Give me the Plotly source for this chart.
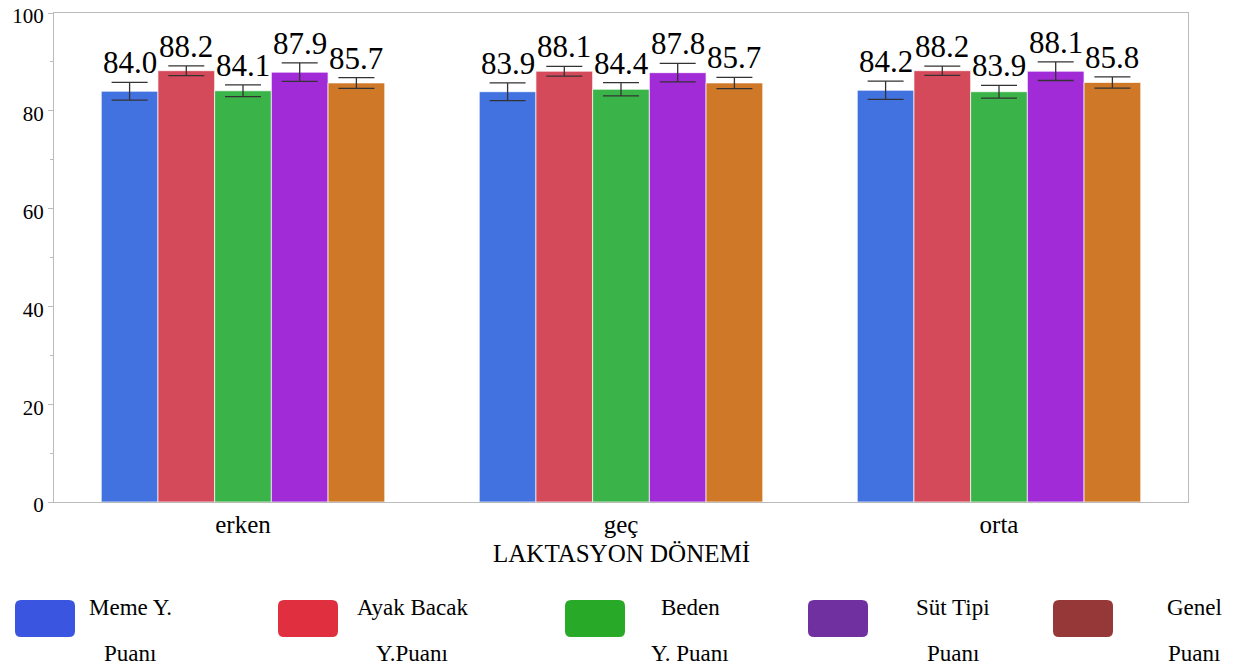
import plotly.graph_objects as go

categories = ["erken", "geç", "orta"]
series_names = ["Meme Y. Puanı", "Ayak Bacak Y.Puanı", "Beden Y. Puanı", "Süt Tipi Puanı", "Genel Puanı"]
legend_line1 = ["Meme Y.", "Ayak Bacak", "Beden", "Süt Tipi", "Genel"]
legend_line2 = ["Puanı", "Y.Puanı", "Y. Puanı", "Puanı", "Puanı"]

meme = [84.0, 83.9, 84.2]
ayak = [88.2, 88.1, 88.2]
beden = [84.1, 84.4, 83.9]
sut = [87.9, 87.8, 88.1]
genel = [85.7, 85.7, 85.8]
values = [meme, ayak, beden, sut, genel]

meme_err = [1.8, 1.8, 1.85]
ayak_err = [1.0, 1.0, 0.95]
beden_err = [1.2, 1.35, 1.3]
sut_err = [1.9, 1.9, 1.9]
genel_err = [1.1, 1.15, 1.15]
errors = [meme_err, ayak_err, beden_err, sut_err, genel_err]

bar_colors = ["#4272E0", "#D44A5A", "#3AB449", "#A22BD8", "#CF7828"]
legend_colors = ["#3A56E0", "#E03040", "#28AA28", "#7030A0", "#963838"]

FONT = "Liberation Serif"

# page offset (body margin) and plot area in page pixels
OFF = 8
W, H = 1240 - OFF, 668 - OFF
PL, PT, PR, PB = 54, 13, 1188, 502  # plot box in page pixels
L = PL - OFF
T = PT - OFF
R = W - (PR - OFF)
B = H - (PB - OFF)
PW = PR - PL
PH = PB - PT

def px_x(px):
    return (px - PL) / PW

def px_y(py):
    return (PB - py) / PH

def rounded_rect(x0, y0, x1, y1, r):
    def P(x, y):
        return f"{px_x(x):.5f},{px_y(y):.5f}"
    return (f"M {P(x0 + r, y0)} L {P(x1 - r, y0)} Q {P(x1, y0)} {P(x1, y0 + r)} "
            f"L {P(x1, y1 - r)} Q {P(x1, y1)} {P(x1 - r, y1)} "
            f"L {P(x0 + r, y1)} Q {P(x0, y1)} {P(x0, y1 - r)} "
            f"L {P(x0, y0 + r)} Q {P(x0, y0)} {P(x0 + r, y0)} Z")

fig = go.Figure()
n = len(series_names)
for i in range(n):
    fig.add_trace(go.Bar(
        x=categories, y=values[i], name=series_names[i],
        marker=dict(color=bar_colors[i], line=dict(color="rgba(255,255,255,0.7)", width=1)),
        error_y=dict(type="data", array=errors[i], visible=True, color="#333333",
                     thickness=1.3, width=18),
        showlegend=False,
    ))

annotations = []
bargap = 0.25
group_w = 1.0 - bargap
bar_w = group_w / n
for i in range(n):
    for j, c in enumerate(categories):
        xc = j - group_w / 2 + bar_w * (i + 0.5)
        annotations.append(dict(
            x=xc, y=values[i][j] + errors[i][j], xref="x", yref="y",
            text=f"{values[i][j]:.1f}", showarrow=False, yanchor="bottom",
            yshift=0, font=dict(family=FONT, size=31, color="#000")))

# custom legend
swatch_x = [15, 278, 565, 808, 1053]
text_cx = [130, 412, 690, 953, 1194]
shapes = []
for i in range(n):
    shapes.append(dict(type="path", xref="paper", yref="paper",
                       path=rounded_rect(swatch_x[i], 600, swatch_x[i] + 60, 637, 6),
                       fillcolor=legend_colors[i], line=dict(width=0)))
    annotations.append(dict(x=px_x(text_cx[i]), y=px_y(607), xref="paper", yref="paper",
                            text=legend_line1[i], showarrow=False, xanchor="center", yanchor="middle",
                            font=dict(family=FONT, size=23, color="#000")))
    annotations.append(dict(x=px_x(text_cx[i]), y=px_y(653), xref="paper", yref="paper",
                            text=legend_line2[i], showarrow=False, xanchor="center", yanchor="middle",
                            font=dict(family=FONT, size=23, color="#000")))

annotations.append(dict(x=0.5, y=px_y(553), xref="paper", yref="paper", text="LAKTASYON DÖNEMİ",
                        showarrow=False, xanchor="center", yanchor="middle",
                        font=dict(family=FONT, size=25, color="#000")))

fig.update_layout(
    width=W, height=H,
    margin=dict(l=L, r=R, t=T, b=B, autoexpand=False),
    paper_bgcolor="white", plot_bgcolor="white",
    barmode="group", bargap=bargap, bargroupgap=0,
    font=dict(family=FONT, color="#000"),
    shapes=shapes, annotations=annotations,
    xaxis=dict(showline=True, linecolor="#BBBBBB", linewidth=1.3, mirror=True,
               ticks="", tickfont=dict(family=FONT, size=25, color="#000"),
               showgrid=False, zeroline=False),
    yaxis=dict(range=[0, 100], tickvals=[0, 20, 40, 60, 80, 100],
               showline=True, linecolor="#BBBBBB", linewidth=1.3, mirror=True,
               ticks="outside", ticklen=5, tickcolor="#BBBBBB",
               ticklabeloverflow="allow", ticklabelshift=3,
               minor=dict(tickvals=[10, 30, 50, 70, 90], ticks="outside", ticklen=3, tickcolor="#BBBBBB"),
               tickfont=dict(family=FONT, size=21, color="#000"),
               showgrid=False, zeroline=False),
)

fig.write_html("out.html")
